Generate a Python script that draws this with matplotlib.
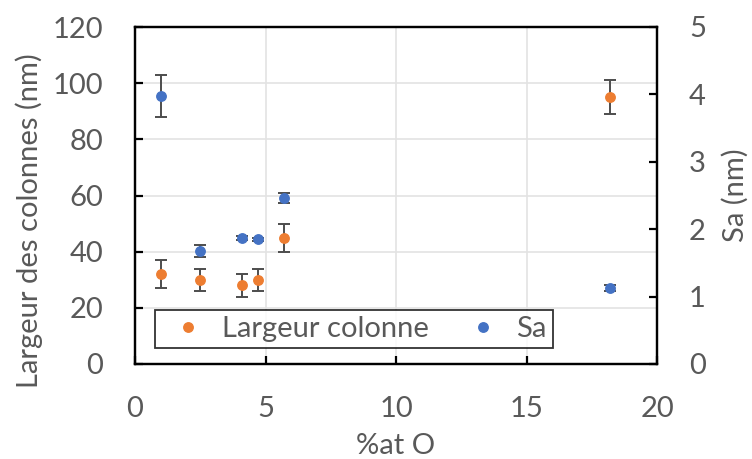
import matplotlib
matplotlib.use('Agg')
import matplotlib.pyplot as plt
from matplotlib.lines import Line2D

# values
at_o = [1.0, 2.5, 4.1, 4.7, 5.7, 18.2]
largeur = [32, 30, 28, 30, 45, 95]
largeur_err = [5, 4, 4, 4, 5, 6]
sa = [3.98, 1.68, 1.87, 1.85, 2.46, 1.13]
sa_err = [0.31, 0.09, 0.03, 0.02, 0.07, 0.04]

xticks = [0, 5, 10, 15, 20]
yticks_left = [0, 20, 40, 60, 80, 100, 120]
yticks_right = [0, 1, 2, 3, 4, 5]

grey = '#595959'
orange = '#ED7D31'
blue = '#4472C4'
plt.rcParams['font.family'] = ['Lato', 'DejaVu Sans']
fs = 21

fig = plt.figure(figsize=(7.52, 4.59), dpi=100)
ax = fig.add_axes([135/752, 1-364/459, 522/752, 337/459])
ax2 = ax.twinx()

ax.errorbar(at_o, largeur, yerr=largeur_err, fmt='o', color=orange, ms=6.8,
            ecolor='#4d4d4d', elinewidth=1.4, capsize=4, capthick=1.4, zorder=3)
ax2.errorbar(at_o, sa, yerr=sa_err, fmt='o', color=blue, ms=6.8,
             ecolor='#4d4d4d', elinewidth=1.4, capsize=4, capthick=1.4, zorder=3)

ax.set_xlim(0, 20)
ax.set_ylim(0, 120)
ax2.set_ylim(0, 5)
ax.set_xticks(xticks)
ax.set_yticks(yticks_left)
ax2.set_yticks(yticks_right)

ax.grid(True, color='#E3E3E3', linewidth=1.2)
ax.set_axisbelow(True)

for a in (ax, ax2):
    for s in a.spines.values():
        s.set_linewidth(1.6)
        s.set_color('black')
ax.tick_params(axis='both', direction='in', length=6, width=1.6, labelsize=fs,
               labelcolor=grey, pad=23, top=False)
ax2.tick_params(axis='y', direction='in', length=6, width=1.6, labelsize=fs,
                labelcolor=grey, pad=23)

ax.set_xlabel('%at O', fontsize=fs, color=grey)
ax.xaxis.set_label_coords(0.5, -0.205)
ax.set_ylabel('Largeur des colonnes (nm)', fontsize=fs, color=grey)
ax.yaxis.set_label_coords(-0.176, 0.424)
ax2.set_ylabel('Sa (nm)', fontsize=fs, color=grey)
ax2.yaxis.set_label_coords(1.124, 0.5)

handles = [Line2D([], [], ls='none', marker='o', color=orange, ms=6.8),
           Line2D([], [], ls='none', marker='o', color=blue, ms=6.8)]
leg = ax2.legend(handles, ['Largeur colonne', 'Sa'], loc='lower left',
                 bbox_to_anchor=(0.038, 0.047, 0.762, 0.137), mode='expand',
                 ncol=2, fontsize=fs, frameon=True, fancybox=False,
                 borderaxespad=0, handletextpad=0.2, handlelength=1.9,
                 borderpad=0.2, columnspacing=1.2, labelcolor=grey)
leg.get_frame().set_edgecolor('black')
leg.get_frame().set_linewidth(1.3)

fig.savefig('out.png', dpi=100)
